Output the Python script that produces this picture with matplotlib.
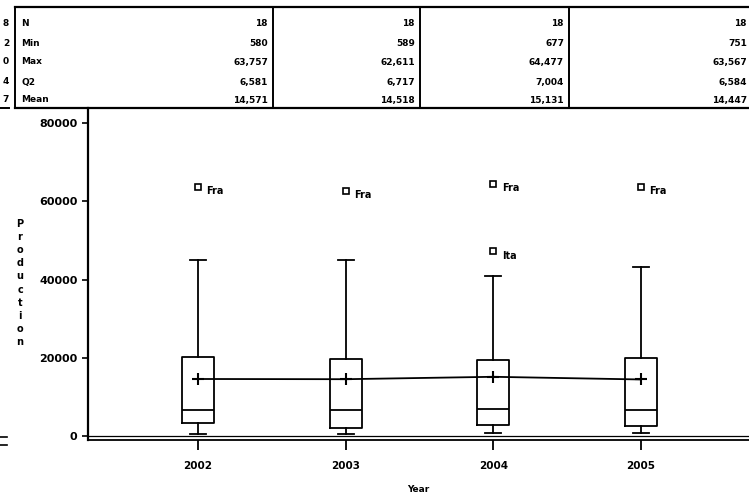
import matplotlib
matplotlib.use("Agg")
import matplotlib.pyplot as plt

# summary rows printed above the plot
years = [2002, 2003, 2004, 2005]
stat_names = ["N", "Min", "Max", "Q2", "Mean"]
n_obs = [18, 18, 18, 18]
mins = [580, 589, 677, 751]
maxs = [63757, 62611, 64477, 63567]
medians = [6581, 6717, 7004, 6584]
means = [14571, 14518, 15131, 14447]

# box edges and upper whiskers
q1 = [3330, 2050, 2800, 2560]
q3 = [20250, 19750, 19500, 20000]
whisk_hi = [44870, 45100, 40770, 43080]

# labelled outliers per year
outliers = [
    [(63757, "Fra")],
    [(62611, "Fra")],
    [(64477, "Fra"), (47180, "Ita")],
    [(63567, "Fra")],
]

# tail of the column cut off on the left
cut_digits = ["8", "2", "0", "4", "7"]

W, H = 749, 495
fig = plt.figure(figsize=(W / 100, H / 100), dpi=100)
plt.rcParams["font.family"] = "DejaVu Sans"


def fx(px):
    return px / W


def fy(py):
    return 1 - py / H


# plot area
left, right, top, bottom = 88, 749, 108, 440
ax = fig.add_axes([fx(left), fy(bottom), fx(right - left), fy(top) - fy(bottom)])

ppx = 147.67          # pixels per year
ppy = 313 / 80000     # pixels per unit of production
ax.set_xlim(2002 - (198 - left) / ppx, 2002 + (right - 198) / ppx)
ax.set_ylim(-(bottom - 436) / ppy, (436 - top) / ppy)

stats = []
for i, yr in enumerate(years):
    stats.append({
        "med": medians[i], "q1": q1[i], "q3": q3[i],
        "whislo": mins[i], "whishi": whisk_hi[i],
        "mean": means[i], "fliers": [],
    })

box_w = 32 / ppx
ax.bxp(stats, positions=years, widths=box_w, showfliers=False,
       showmeans=False, capwidths=16 / ppx, manage_ticks=False,
       boxprops=dict(color="black", linewidth=1.3),
       medianprops=dict(color="black", linewidth=1.3),
       whiskerprops=dict(color="black", linewidth=1.3),
       capprops=dict(color="black", linewidth=1.3))

# line joining the means
ax.plot(years, means, color="black", linewidth=1.3, marker="+",
        markersize=9, markeredgewidth=1.5, zorder=3)

# outliers with country tags
for yr, pts in zip(years, outliers):
    for val, tag in pts:
        ax.plot([yr], [val], marker="s", markersize=5, markerfacecolor="white",
                markeredgecolor="black", markeredgewidth=1.2, linestyle="none")
        ax.annotate(tag, (yr, val), xytext=(6, -3), textcoords="offset points",
                    fontsize=7, fontweight="bold", va="center", ha="left")

ax.axhline(0, color="black", linewidth=0.9, zorder=1)

for s in ["top", "right"]:
    ax.spines[s].set_visible(False)
ax.spines["left"].set_linewidth(1.6)
ax.spines["bottom"].set_linewidth(1.3)

ax.set_yticks([0, 20000, 40000, 60000, 80000])
ax.set_yticklabels(["0", "20000", "40000", "60000", "80000"])
ax.set_xticks(years)
ax.set_xticklabels([str(y) for y in years])
ax.tick_params(axis="y", direction="out", length=4.5, width=1.2,
               labelsize=8, pad=3)
ax.tick_params(axis="x", direction="out", length=7, width=1.3,
               labelsize=7.5, pad=8)
for lab in ax.get_yticklabels() + ax.get_xticklabels():
    lab.set_fontweight("bold")

# axis titles
fig.text(fx(20), fy(283), "P\nr\no\nd\nu\nc\nt\ni\no\nn", fontsize=7,
         fontweight="bold", ha="center", va="center", linespacing=1.38)
fig.text(fx(418), fy(490), "Year", fontsize=6.5, fontweight="bold",
         ha="center", va="center")

# summary table
t_top, t_bot = 7, 108
row_y = [24, 43, 62, 82, 100]
col_lines = [15, 273, 420, 569]
col_right = [268, 415, 564, 747]

fig.add_artist(plt.Line2D([fx(15), 1], [fy(t_top), fy(t_top)], color="black",
                          linewidth=1.6))
fig.add_artist(plt.Line2D([fx(15), 1], [fy(t_bot), fy(t_bot)], color="black",
                          linewidth=1.6))
fig.add_artist(plt.Line2D([0, fx(9)], [fy(t_bot), fy(t_bot)], color="black",
                          linewidth=1.4))
for cx in col_lines:
    fig.add_artist(plt.Line2D([fx(cx), fx(cx)], [fy(t_top), fy(t_bot)],
                              color="black", linewidth=1.4))

for ry, name in zip(row_y, stat_names):
    fig.text(fx(21), fy(ry), name, fontsize=6.5, fontweight="bold",
             va="center", ha="left")

for i in range(len(years)):
    col_vals = [n_obs[i], mins[i], maxs[i], medians[i], means[i]]
    for ry, v in zip(row_y, col_vals):
        fig.text(fx(col_right[i]), fy(ry), f"{v:,}", fontsize=6.5,
                 fontweight="bold", va="center", ha="right")

for ry, d in zip(row_y, cut_digits):
    fig.text(fx(9), fy(ry), d, fontsize=6.5, fontweight="bold",
             va="center", ha="right")

# remnants of the neighbouring axis
for py in (437, 445):
    fig.add_artist(plt.Line2D([0, fx(7)], [fy(py), fy(py)], color="black",
                              linewidth=1.2))

fig.savefig("out.png", dpi=100)
